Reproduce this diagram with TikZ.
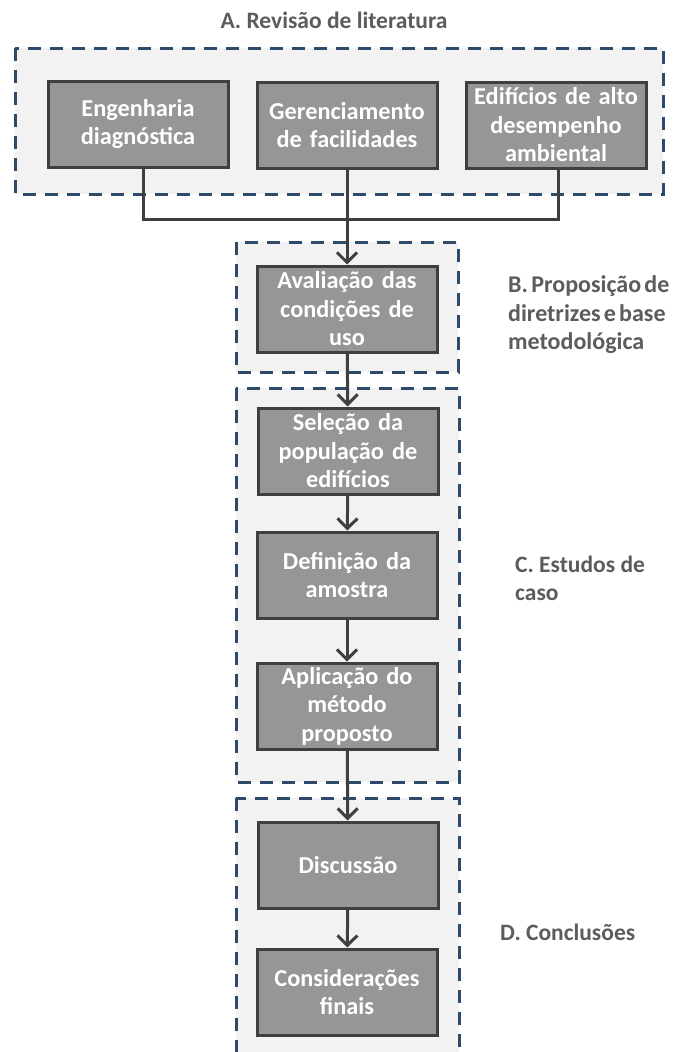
\documentclass[tikz,border=0pt]{standalone}
\usepackage{fontspec}
\setmainfont{Carlito}
\newfontfamily\tightcarlito[WordSpace=0.6]{Carlito}
\usetikzlibrary{arrows.meta}
\definecolor{stagefill}{HTML}{F2F2F2}
\definecolor{stageline}{HTML}{2E4A6B}
\definecolor{taskfill}{HTML}{969696}
\definecolor{taskline}{HTML}{3F3F3F}
\definecolor{labelgray}{HTML}{5C5C5C}
\tikzset{
  stagebox/.style={fill=stagefill, draw=stageline, line width=3pt, dash pattern=on 13pt off 9pt},
  task/.style={rectangle, fill=taskfill, draw=taskline, line width=3pt,
    minimum width=180pt, minimum height=86pt, text width=174pt, align=center,
    text=white, font=\fontsize{24.3}{28.5}\selectfont\bfseries, inner sep=0pt},
  stagelabel/.style={text=labelgray, font=\fontsize{23.5}{28}\selectfont\bfseries, inner sep=0pt},
  link/.style={draw=taskline, line width=3pt},
  flow/.style={link, -{Straight Barb[length=10pt,width=20pt]}},
}
\begin{document}
\begin{tikzpicture}[x=1pt,y=-1pt]
\useasboundingbox (0,0) rectangle (673,1052);
\clip (0,0) rectangle (673,1052);
\fill[white] (0,0) rectangle (673,1052);

% stage frames
\draw[stagebox] (15,48) rectangle (663,194);
\draw[stagebox] (236,242) rectangle (458,372);
\draw[stagebox] (236,388) rectangle (459,782);
\draw[stagebox] (236,798) rectangle (459,1075);

% stage titles
\node[stagelabel] (la) at (334,20) {A. Revisão de literatura};
\node[stagelabel, anchor=west, align=left, font=\tightcarlito\fontsize{24}{28.5}\selectfont\bfseries] (lb) at (508,315) {B. Proposição de\\diretrizes e base\\metodológica};
\node[stagelabel, anchor=west, align=left] (lc) at (515,578) {C. Estudos de\\caso};
\node[stagelabel, anchor=west] (ld) at (500,932) {D. Conclusões};

% tasks
\node[task] (eng) at (138,124) {Engenharia\\diagnóstica};
\node[task] (ger) at (347,125) {Gerenciamento\\de facilidades};
\node[task] (edi) at (556,125) {Edifícios de alto\\desempenho\\ambiental};
\node[task] (ava) at (347,309) {Avaliação das\\condições de\\uso};
\node[task] (sel) at (348,451) {Seleção da\\população de\\edifícios};
\node[task] (def) at (347,575) {Definição da\\amostra};
\node[task] (apl) at (347,706) {Aplicação do\\método\\proposto};
\node[task] (dis) at (348,865) {Discussão};
\node[task] (con) at (347,992) {Considerações\\finais};

% connectors
\coordinate (join) at (347,219);
\draw[link] ([xshift=5pt]eng.south) |- (join);
\draw[link] ([xshift=2pt]edi.south) |- (join);
\draw[flow] (ger) -- (ava);
\draw[flow] (ava) -- (sel);
\draw[flow] (sel) -- (def);
\draw[flow] (def) -- (apl);
\draw[flow] (apl) -- (dis);
\draw[flow] (dis) -- (con);
\end{tikzpicture}
\end{document}
